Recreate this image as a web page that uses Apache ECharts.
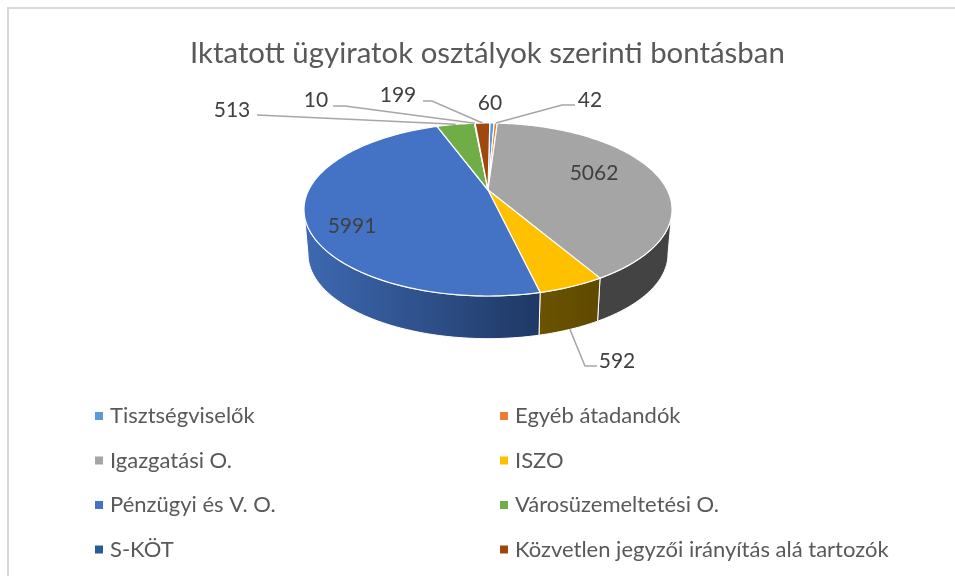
<!DOCTYPE html>
<html>
<head>
<meta charset="utf-8">
<style>
  html, body { margin: 0; padding: 0; background: #fff; }
  #chart { width: 955px; height: 576px; }
</style>
<script src="https://cdn.jsdelivr.net/npm/echarts@6/dist/echarts.min.js"></script>
</head>
<body>
<div id="chart"></div>
<script>
const titleText = 'Iktatott ügyiratok osztályok szerinti bontásban';
const categories = ['Tisztségviselők', 'Egyéb átadandók', 'Igazgatási O.', 'ISZO', 'Pénzügyi és V. O.', 'Városüzemeltetési O.', 'S-KÖT', 'Közvetlen jegyzői irányítás alá tartozók'];
const values = [60, 42, 5062, 592, 5991, 513, 10, 199];
const colors = ['#5b9bd5', '#ed7d31', '#a5a5a5', '#ffc000', '#4472c4', '#70ad47', '#255e91', '#9e480e'];
const sideColors = [
  ['#3f6f9c', '#3f6f9c'], ['#8a4a1e', '#8a4a1e'], ['#434343', '#434343'], ['#6b5300', '#5e4900'],
  ['#3e69b2', '#1f3864'], ['#43682b', '#43682b'], ['#163a5a', '#163a5a'], ['#5e2b08', '#5e2b08']
];

// label placement: text centre and elbow of the leader line
const labelPlaces = [
  { text: [490, 103] },
  { text: [590, 100], elbow: [562, 105], end: [575, 105] },
  { text: [594, 173] },
  { text: [617, 361], elbow: [585, 366], end: [597, 366], onBottom: true },
  { text: [352, 226] },
  { text: [232, 110], end: [257, 115] },
  { text: [316, 100], elbow: [345, 106], end: [333, 106] },
  { text: [398, 95], elbow: [432, 101], end: [423, 101] }
];

const total = values.reduce((a, b) => a + b, 0);
const starts = [];
values.reduce((sum, v, i) => { starts[i] = sum; return sum + v; }, 0);

// perspective of the tilted disc
const cx = 488, topY = 190, bottomY = 235, bottomScale = 0.978;
const radiusX = 179.3, radiusY = 82.1, tilt = 0.2254;
const startAngle = 0.7 * Math.PI / 180;
// the wall is only seen between the widest points of the disc
const frontFrom = Math.acos(-tilt), frontTo = Math.PI * 2 - frontFrom;

function project(angle, y0, scale) {
  const u = Math.sin(angle), v = -Math.cos(angle);
  const s = scale / (1 - tilt * v);
  return [cx + radiusX * u * s, y0 + radiusY * v * s];
}
function toAngle(val) {
  return startAngle + val / total * Math.PI * 2;
}
function arcPoints(a1, a2, y0, scale) {
  const n = Math.max(2, Math.ceil(Math.abs(a2 - a1) / 0.02));
  const pts = [];
  for (let i = 0; i <= n; i++) pts.push(project(a1 + (a2 - a1) * i / n, y0, scale));
  return pts;
}

function renderTop(i) {
  return function () {
    const a1 = toAngle(starts[i]), a2 = toAngle(starts[i] + values[i]);
    return {
      type: 'polygon',
      shape: { points: [[cx, topY]].concat(arcPoints(a1, a2, topY, 1)) },
      style: { fill: colors[i], stroke: '#fff', lineWidth: 1.2, lineJoin: 'round' }
    };
  };
}

function renderSide(params, api) {
  const i = params.dataIndex;
  const a1 = Math.max(toAngle(starts[i]), frontFrom);
  const a2 = Math.min(toAngle(starts[i] + api.value(0)), frontTo);
  if (a2 <= a1) return null;
  return {
    type: 'polygon',
    shape: { points: arcPoints(a1, a2, topY, 1).concat(arcPoints(a2, a1, bottomY, bottomScale)) },
    style: {
      fill: new echarts.graphic.LinearGradient(0, 0, 1, 0, [
        { offset: 0, color: sideColors[i][0] },
        { offset: 1, color: sideColors[i][1] }
      ]),
      stroke: '#fff',
      lineWidth: 1
    }
  };
}

function renderLabel(params, api) {
  const i = params.dataIndex;
  const place = labelPlaces[i];
  const children = [{
    type: 'text',
    style: {
      x: place.text[0], y: place.text[1],
      text: String(api.value(0)),
      align: 'center', verticalAlign: 'middle',
      fill: '#404040', font: '21px Lato'
    }
  }];
  if (place.end) {
    const mid = toAngle(starts[i] + values[i] / 2);
    const from = place.onBottom ? project(mid, bottomY, bottomScale) : project(mid, topY, 1);
    const pts = [from];
    if (place.elbow) pts.push(place.elbow);
    pts.push(place.end);
    children.unshift({
      type: 'polyline',
      shape: { points: pts },
      style: { fill: 'none', stroke: '#a6a6a6', lineWidth: 1.5 }
    });
  }
  return { type: 'group', children: children };
}

const topSeries = categories.map((name, i) => ({
  type: 'custom',
  name: name,
  coordinateSystem: 'none',
  z: 3,
  itemStyle: { color: colors[i] },
  data: [values[i]],
  renderItem: renderTop(i)
}));

const legendBase = {
  orient: 'vertical',
  icon: 'rect',
  itemWidth: 8,
  itemHeight: 8,
  itemGap: 22.5,
  selectedMode: false,
  textStyle: { fontFamily: 'Lato', fontSize: 22, color: '#595959', padding: [0, 0, 0, 2] }
};

const chart = echarts.init(document.getElementById('chart'));
chart.setOption({
  animation: false,
  backgroundColor: '#fff',
  title: {
    text: titleText,
    left: 185,
    top: 34,
    textStyle: { fontFamily: 'Lato', fontSize: 29.4, fontWeight: 'normal', color: '#595959' }
  },
  legend: [
    Object.assign({}, legendBase, { left: 90, top: 400, data: categories.filter((c, i) => i % 2 === 0) }),
    Object.assign({}, legendBase, { left: 495, top: 400, data: categories.filter((c, i) => i % 2 === 1) })
  ],
  graphic: [{
    type: 'polyline',
    silent: true,
    shape: { points: [[8, 580], [8, 8], [960, 8]] },
    style: { fill: 'none', stroke: '#d9d9d9', lineWidth: 2 }
  }],
  series: [{
    type: 'custom',
    name: 'oldal',
    coordinateSystem: 'none',
    z: 2,
    data: values,
    renderItem: renderSide
  }].concat(topSeries, [{
    type: 'custom',
    name: 'címkék',
    coordinateSystem: 'none',
    z: 4,
    data: values,
    renderItem: renderLabel
  }])
});
</script>
</body>
</html>
